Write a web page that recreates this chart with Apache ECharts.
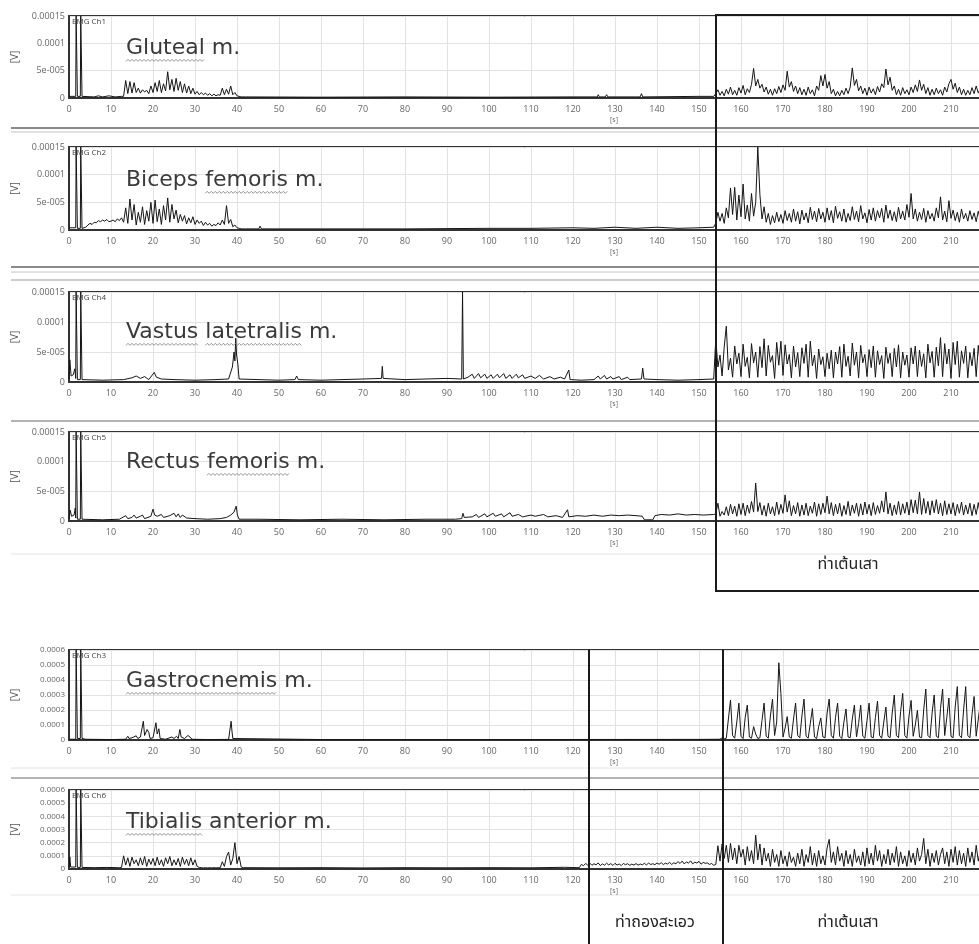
<!DOCTYPE html>
<html><head><meta charset="utf-8">
<script src="https://cdn.jsdelivr.net/npm/echarts@6/dist/echarts.min.js"></script>
<style>html,body{margin:0;padding:0;background:#fff}#c{width:979px;height:944px}</style>
</head><body><div id="c"></div>
<script>
// ---------- DATA (EMG amplitude in units of 1e-5 V, time in s) ----------
const xTicks = [0,10,20,30,40,50,60,70,80,90,100,110,120,130,140,150,160,170,180,190,200,210,220];
const yLabelsSmall = {0:'0',5:'5e-005',10:'0.0001',15:'0.00015'};
const yLabelsLarge = {0:'0',10:'0.0001',20:'0.0002',30:'0.0003',40:'0.0004',50:'0.0005',60:'0.0006'};
const channelNames = ['EMG Ch1','EMG Ch2','EMG Ch4','EMG Ch5','EMG Ch3','EMG Ch6'];
const muscleNames = ['Gluteal m.','Biceps femoris m.','Vastus latetralis m.','Rectus femoris m.','Gastrocnemis m.','Tibialis anterior m.'];
const squiggleWords = [['Gluteal'],['femoris'],['Vastus','latetralis'],['femoris'],['Gastrocnemis'],['Tibialis']];
const poseLabels = ['ท่าเต้นเสา','ท่าถองสะเอว'];
const SAMPLE_STEP = 0.5; // s, spacing of the dense sample lists below

// Gluteal
const glutealLead = [[0,0.3],[1.6,0.3],[1.7,15],[1.9,15],[2.0,0.3],[2.7,0.3],[2.8,15],[3.0,15],[3.1,0.3],[6,0.2],[7,0.4],[8,0.2],[9.5,0.4],[11,0.2],[12.5,0.3]];
const glutealA_t0 = 13;
const glutealA = [0.3,3.2,0.8,3.0,0.9,2.8,1.0,1.8,0.9,1.5, 1.1,1.4,0.8,2.2,1.0,2.8,1.2,3.2,1.0,2.6, 1.3,4.8,1.5,3.4,1.2,3.6,1.4,3.0,1.0,2.6, 0.9,2.2,0.8,1.8,0.7,1.2,0.6,1.0,0.6,0.9, 0.5,0.8,0.4,0.7,0.4,0.6,0.5,1.8,0.6,1.6, 0.7,2.2,0.6,1.0,0.4,0.3,0.2];
const glutealMid = [[42,0.2],[60,0.15],[80,0.2],[100,0.15],[120,0.2],[125.8,0.2],[126,0.6],[126.3,0.2],[127.7,0.2],[128,0.6],[128.3,0.2],[136,0.2],[136.3,0.8],[136.6,0.2],[150,0.3],[153.5,0.3]];
const glutealB_t0 = 154;
const glutealB = [0.8,1.5,0.5,1.2,0.4,1.6,0.7,2.0,0.6,1.4, 0.5,1.9,0.9,2.3,0.6,1.7,1.0,2.5,5.4,2.2, 3.4,1.8,2.5,1.1,2.0,0.7,1.6,0.5,1.7,0.8, 2.1,1.0,2.4,1.4,4.9,2.0,3.0,1.2,2.2,0.8, 1.9,0.6,1.6,0.5,2.0,0.8,1.5,0.4,2.2,1.4, 4.1,2.2,4.3,1.8,3.0,0.8,1.6,0.4,1.2,0.4, 1.4,0.6,1.8,0.8,2.0,5.5,2.3,3.4,1.3,2.2, 0.8,1.8,0.5,2.0,0.9,1.7,0.6,2.1,1.1,2.6, 1.9,5.3,2.4,3.8,1.4,2.2,0.6,1.6,0.5,1.9, 0.8,1.5,0.6,2.0,1.0,2.4,1.2,3.3,1.4,2.5, 0.8,1.9,0.5,1.6,0.6,1.8,0.8,1.5,0.5,2.0, 1.1,2.6,3.4,1.6,2.7,1.0,2.0,0.6,1.6,0.5, 1.4,0.6,1.9,0.8,2.2,0.9,1.8];

// Biceps femoris
const bicepsLead = [[0,0.4],[1.6,0.4],[1.7,15],[1.9,15],[2.0,0.3],[2.7,0.3],[2.8,15],[3.0,15],[3.1,0.3],[3.5,0.4]];
const bicepsA_t0 = 4;
const bicepsA = [0.5,0.9,1.2,1.0,1.4,1.3,1.7,1.5,1.8,1.6, 1.9,1.5,1.6,1.8,1.5,2.0,1.7,2.2,1.4,4.0, 1.2,5.6,1.8,4.6,0.9,3.2,1.4,4.2,1.0,3.5, 1.6,5.0,1.2,5.4,1.5,3.8,1.0,4.4,1.8,5.8, 1.4,4.6,2.0,3.6,1.3,2.8,1.6,2.6,1.1,2.2, 1.3,2.4,1.0,1.8,1.2,1.6,0.8,1.4,0.9,1.2, 0.7,1.0,0.8,1.3,0.9,1.8,1.0,4.4,1.2,1.9, 0.6,0.9,0.4,0.3,0.2];
const bicepsMid = [[42,0.2],[45.2,0.2],[45.5,0.7],[45.8,0.2],[60,0.2],[80,0.2],[100,0.3],[110,0.3],[120,0.4],[125,0.3],[130,0.5],[135,0.3],[140,0.5],[145,0.3],[150,0.4],[153.5,0.5]];
const bicepsB_t0 = 154;
const bicepsB = [1.2,3.2,1.6,3.0,1.2,4.0,2.2,7.6,2.8,7.7, 1.8,6.3,2.4,8.3,2.0,4.5,1.6,6.6,2.5,5.0, 15,6.4,2.0,4.2,1.4,3.0,1.0,2.6,1.3,3.2, 1.5,2.8,1.2,3.5,1.7,3.0,1.4,3.8,1.6,3.3, 1.1,3.6,1.8,3.1,1.3,4.1,1.9,3.4,1.5,3.9, 2.0,3.2,1.4,4.0,1.8,3.5,1.3,4.3,2.1,3.3, 1.6,3.8,1.4,3.0,1.7,4.2,1.9,3.4,1.5,4.4, 2.0,3.1,1.3,3.7,1.8,4.0,1.6,3.5,2.2,3.9, 1.4,4.5,2.1,3.6,1.7,3.3,1.5,4.1,2.0,3.4, 1.8,4.6,2.3,6.6,2.0,3.8,1.6,3.2,1.9,3.9, 1.4,3.5,2.0,3.0,1.6,4.0,2.2,6.0,1.8,3.4, 1.5,5.3,2.1,3.6,1.7,3.2,1.4,3.8,2.0,3.0, 1.6,3.5,1.9,3.1,1.5,3.4,1.8];

// Vastus lateralis
const vastusLead = [[0,0.5],[0.2,3.7],[0.5,1.0],[1.0,1.2],[1.4,2.2],[1.6,0.6],[1.7,15],[1.9,15],[2.0,0.4],[2.7,0.4],[2.8,15],[3.0,15],[3.1,0.4],[8,0.3],[13,0.4],[15,0.7],[16,1.0],[17,0.6],[18,0.9],[19,0.4],[20.3,1.6],[20.8,0.8],[22,0.5],[25,0.4],[30,0.3],[35,0.4],[38,0.5],[38.9,2.5],[39.3,5.0],[39.5,3.5],[39.7,7.3],[39.9,4.5],[40.2,3.0],[40.5,0.5],[45,0.4],[50,0.3],[53.8,0.4],[54.2,1.0],[54.6,0.4],[60,0.3],[65,0.4],[70,0.5],[74.4,0.6],[74.6,2.6],[74.8,0.6],[80,0.4],[85,0.5],[90,0.6],[93.5,0.5],[93.7,15],[93.9,0.5],[95,0.8],[96,1.3],[96.5,0.6],[97.5,1.4],[98,0.7],[99,1.3],[99.5,0.6],[100.5,1.2],[101,0.6],[102,1.3],[102.5,0.7],[103.5,1.4],[104,0.6],[105,1.2],[105.5,0.6],[106.5,1.3],[107,0.7],[108,1.2],[108.5,0.6],[110,1.0],[111,0.6],[112,1.1],[113,0.5],[114.5,0.9],[115.5,0.5],[117,0.8],[118,0.5],[119,2.0],[119.3,0.4],[122,0.3],[125,0.4],[126,1.0],[126.5,0.5],[127.5,1.1],[128,0.5],[129,0.9],[129.5,0.5],[131,0.9],[131.5,0.4],[133,0.8],[133.5,0.4],[136.3,0.5],[136.6,2.3],[136.9,0.5],[140,0.4],[145,0.3],[150,0.4],[153.5,0.5]];
const vastusB_t0 = 154;
const vastusB = [7.2,2.5,4.5,1.0,5.8,9.3,2.0,4.0,0.8,6.0, 3.0,4.8,0.9,6.3,2.6,4.1,0.7,6.4,3.2,5.0, 0.8,5.9,2.4,7.2,1.0,6.1,3.3,4.4,0.6,6.6, 2.8,6.8,1.1,6.2,3.0,4.6,0.7,6.0,2.5,4.9, 0.9,5.7,3.1,6.3,0.8,6.8,2.7,4.5,0.6,5.5, 2.9,4.2,0.9,4.8,2.2,5.3,0.7,5.0,3.0,5.9, 0.8,6.3,2.6,4.3,1.0,6.5,2.8,5.0,0.7,6.1, 3.2,4.6,0.9,5.4,2.4,6.0,0.8,5.2,2.9,4.4, 0.6,5.8,3.1,4.8,0.9,5.6,2.5,6.2,0.7,5.0, 2.8,4.5,0.8,5.7,3.0,6.0,0.9,5.3,2.6,4.7, 0.7,6.3,3.2,5.1,0.8,5.8,2.7,7.4,0.9,6.4, 3.0,5.5,0.6,6.6,2.9,6.8,0.8,5.2,3.1,6.0, 0.7,4.9,2.7,5.6,0.9,6.1,2.5];

// Rectus femoris
const rectusLead = [[0,0.4],[0.3,1.8],[0.6,0.8],[1.2,1.0],[1.5,2.2],[1.6,0.5],[1.7,15],[1.9,15],[2.0,0.3],[2.7,0.3],[2.8,15],[3.0,15],[3.1,0.3],[8,0.2],[12,0.3],[13.5,0.9],[14,0.4],[15,0.6],[15.5,1.0],[16,0.5],[17,0.8],[17.5,1.0],[18,0.4],[19.5,0.8],[20,2.0],[20.4,1.0],[21,0.8],[22,1.1],[22.5,0.6],[24,0.9],[25,1.3],[25.5,0.7],[26,1.2],[26.5,0.6],[27,1.0],[28,0.5],[30,0.4],[33,0.3],[36,0.4],[37.5,0.6],[38.5,1.0],[39.3,1.5],[39.8,2.5],[40.1,1.0],[40.5,0.3],[45,0.3],[55,0.2],[65,0.3],[75,0.2],[85,0.3],[92,0.3],[93.5,0.4],[93.8,1.3],[94.1,0.6],[96,0.7],[97,1.1],[97.5,0.6],[99,1.2],[99.5,0.7],[101,1.3],[101.5,0.8],[103,1.2],[103.5,0.7],[105,1.4],[105.5,0.8],[107,1.1],[108,0.7],[110,1.0],[111,0.8],[113,1.1],[114,0.7],[116,0.9],[117.5,0.6],[118.7,1.9],[119,0.7],[121,0.9],[123,0.8],[125,1.0],[127,0.8],[129,1.0],[131,0.9],[133,1.0],[135,0.9],[136.5,0.8],[137,0.2],[139,0.2],[139.5,0.9],[141,1.1],[143,1.0],[145,1.2],[147,1.0],[149,1.1],[151,1.0],[153.5,1.1]];
const rectusB_t0 = 154;
const rectusB = [1.2,3.0,0.8,1.6,1.0,2.4,0.9,2.8,1.2,2.5, 0.8,2.9,1.1,3.0,0.9,2.7,1.3,3.3,1.5,6.4, 1.6,3.1,1.0,2.6,0.8,3.0,1.2,2.4,0.9,3.2, 1.1,2.8,1.3,4.4,1.5,3.4,0.9,2.6,1.2,3.1, 0.8,2.7,1.0,3.0,0.9,2.5,1.3,3.2,0.8,2.9, 1.1,3.0,1.4,4.2,1.2,3.1,0.9,2.8,1.2,3.0, 0.8,2.6,1.1,3.3,0.9,2.7,1.3,3.0,0.8,2.9, 1.0,3.2,1.2,2.8,0.9,3.1,1.1,2.6,1.3,3.4, 1.5,4.9,1.2,3.0,0.9,2.7,1.1,3.3,1.0,2.9, 1.3,3.2,1.0,3.6,1.4,3.5,1.2,4.9,1.1,3.8, 1.3,3.3,1.0,3.4,1.4,3.6,1.2,3.0,0.9,3.4, 1.1,2.9,1.2,3.1,0.9,2.8,1.3,3.2,1.0,2.7, 1.2,3.0,0.9,2.8,1.1,3.1,1.0];

// Gastrocnemius
const gastroLead = [[0,0.5],[1.6,0.5],[1.7,60],[1.9,60],[2.0,1.0],[2.7,1.0],[2.8,60],[3.0,60],[3.1,1.0],[4,0.5],[10,0.3],[13.5,0.5],[14,2.5],[14.3,1.0],[15,1.5],[16,2.8],[16.4,1.0],[17,2.0],[17.7,12.5],[18,3.0],[18.6,7.0],[19,5.0],[19.3,1.0],[20,1.5],[20.7,11.5],[21,4.0],[21.4,7.5],[21.7,1.0],[23,0.5],[24.5,2.0],[25,1.0],[25.6,2.5],[26,1.0],[26.4,7.0],[26.7,2.0],[27.5,1.0],[28.3,3.0],[28.8,2.0],[29.3,0.5],[33,0.3],[38,0.4],[38.6,12.5],[38.8,6.0],[39,1.0],[39.3,0.3],[60,0.3],[100,0.3],[150,0.4],[155,0.5]];
const gastroB_t0 = 155.5;
const gastroB = [1.5,0.8,1.2,14,26.7,3,1.2,12,24.6,2.5, 1.0,15,23.3,2,1.2,8.9,4,1.0,1.5,13, 24.6,2.5,1.2,16,27.3,3,12,51.5,31,2, 8,15.6,2,1.2,14,24.6,3,1.5,16,27.3, 2.5,1.2,11,21,2,1.0,9,14.7,2,1.5, 18,27.3,3,1.2,15,24.6,2.5,1.0,12,20.7, 2,1.5,14,23.3,2,11,23.3,2.5,1.2,13, 24.6,2,1.5,15,25.9,3,1.2,12,22,2.5, 1.5,18,30,3,1.5,19,31.1,3,1.2,16, 26.4,2.5,10,19.8,2,1.5,20,34,3,1.5, 18,30,2.5,1.5,21,34,3,15,28,2.5, 1.5,22,35.6,3,1.5,20,35.6,3,1.5,17, 29,2.5,14,25];

// Tibialis anterior
const tibialisLead = [[0,1.5],[0.2,9.2],[0.4,1.5],[1.6,1.5],[1.7,60],[1.9,60],[2.0,1.2],[2.7,1.2],[2.8,60],[3.0,60],[3.1,1.2],[6,1.0],[9,1.2],[11.5,1.0]];
const tibialisA_t0 = 12;
const tibialisA = [1.0,1.2,10,3,8.5,2,9,4,7,2.5, 8.5,3,9.5,2,7.5,3.5,8,2.5,9,3, 7,2,8.5,4,9.5,2.5,7,3,8,2, 9,3.5,7.5,2.5,8.5,3,7,2,1.2,1.0, 0.8,1.0,0.8,1.0,0.8,1.0,0.8,1.0,0.9,5.5, 2,9.5,12.8,3,8,20,4,9.5,1.5];
const tibialisMid = [[41.5,1.0],[50,0.9],[60,1.0],[70,0.8],[80,1.0],[90,0.9],[100,1.0],[110,0.9],[118,1.3],[121.5,1.0]];
const tibialisC_t0 = 122;
const tibialisC = [3.5,2.5,4.2,3.0,4.5,2.8,4.0,3.2,4.6,2.6, 3.9,2.9,4.4,3.1,4.1,2.7,4.3,3.0,3.8,2.6, 4.2,3.3,4.0,2.8,3.7,3.0,4.1,2.9,3.8,3.2, 4.3,3.1,4.5,3.4,4.0,3.3,4.6,3.6,4.8,3.4, 4.4,3.8,5.0,3.5,4.7,4.0,5.6,4.2,6.0,3.8, 5.4,4.4,6.2,3.9,5.2,4.5,5.8,3.7,5.0,4.3, 4.6,3.5,4.2,2.8,3.5,17.7];
const tibialisB_t0 = 155;
const tibialisB = [6,19,8,18,5,19.5,7,16,4,18, 9,15,3,17,6,14,4,25.7,7,19, 3,16,6,12,2,15,5,11,2,14, 4,10,2,13,5,9,2,12,4,15, 2,11,5,17,3,12,2,14,4,10, 3,16,22.5,5,13,3,17,6,12,2, 14,4,11,2,15,5,10,3,13,2, 16,4,12,3,18,6,14,2,11,4, 15,3,12,5,17,2,13,4,10,2, 14,5,12,3,16,6,11,23.2,4,15, 2,12,5,14,3,11,16,4,13,2, 15,5,17,3,14,4,12,2,16,5, 13,3,18,6,14];

// ---------- BUILD ----------
function samples(t0, vals){ return vals.map((v,i)=>[t0 + i*SAMPLE_STEP, v]); }
const seriesData = [
  [].concat(glutealLead, samples(glutealA_t0, glutealA), glutealMid, samples(glutealB_t0, glutealB)),
  [].concat(bicepsLead, samples(bicepsA_t0, bicepsA), bicepsMid, samples(bicepsB_t0, bicepsB)),
  [].concat(vastusLead, samples(vastusB_t0, vastusB)),
  [].concat(rectusLead, samples(rectusB_t0, rectusB)),
  [].concat(gastroLead, samples(gastroB_t0, gastroB)),
  [].concat(tibialisLead, samples(tibialisA_t0, tibialisA), tibialisMid, samples(tibialisC_t0, tibialisC), samples(tibialisB_t0, tibialisB))
];

// layout (pixels)
const PLOT_LEFT = 69, PX_PER_S = 4.2;
const panels = [
  {top:16, height:82, big:false, nameY:48},
  {top:147, height:83, big:false, nameY:180},
  {top:292, height:90, big:false, nameY:332},
  {top:432, height:89, big:false, nameY:462},
  {top:650, height:90, big:true, nameY:681},
  {top:790, height:79, big:true, nameY:822}
];
const NAME_FONT_SIZE = 22;
const NAME_FONT = '"DejaVu Sans",sans-serif';
const FONT = '"Open Sans","Noto Sans",sans-serif';

const chart = echarts.init(document.getElementById('c'), null, {renderer:'canvas'});
const grid=[], xAxis=[], yAxis=[], series=[], graphic=[];
const measureCtx = document.createElement('canvas').getContext('2d');
measureCtx.font = NAME_FONT_SIZE + 'px ' + NAME_FONT;

panels.forEach((p,i)=>{
  grid.push({left:PLOT_LEFT, width:PX_PER_S*xTicks[xTicks.length-1], top:p.top, height:p.height,
    show:true, borderColor:'#333', borderWidth:2, containLabel:false, outerBoundsMode:'none'});
  xAxis.push({type:'value', gridIndex:i, min:xTicks[0], max:xTicks[xTicks.length-1], interval:10,
    axisLine:{show:true, lineStyle:{color:'#333', width:2}}, axisTick:{show:false},
    axisLabel:{fontSize:9, color:'#666', margin:7, fontFamily:FONT},
    splitLine:{show:true, lineStyle:{color:'#e2e2e2', width:1}}});
  const labs = p.big ? yLabelsLarge : yLabelsSmall;
  yAxis.push({type:'value', gridIndex:i, min:0, max:p.big?60:15, interval:p.big?10:5,
    axisLine:{show:true, lineStyle:{color:'#333', width:2}}, axisTick:{show:false},
    axisLabel:{fontSize:p.big?8:9, color:'#666', margin:4, fontFamily:FONT, formatter:v=>labs[v]!==undefined?labs[v]:''},
    splitLine:{show:true, lineStyle:{color:'#e2e2e2', width:1}},
    name:'[V]', nameLocation:'middle', nameGap:49, nameRotate:90, nameTextStyle:{fontSize:10, color:'#555', fontFamily:FONT}});
  series.push({type:'line', xAxisIndex:i, yAxisIndex:i, data:seriesData[i], showSymbol:false, symbol:'none',
    lineStyle:{color:'#151515', width:1}, clip:true, animation:false, z:3});
  graphic.push({type:'text', left:PLOT_LEFT+3, top:p.top+2, z:10, style:{text:channelNames[i], fontSize:8, fill:'#444', fontFamily:FONT}});
  const nameX = 126;
  graphic.push({type:'text', x:nameX, y:p.nameY, z:10, style:{text:muscleNames[i], fontSize:NAME_FONT_SIZE, fill:'#3a3a3a', fontFamily:NAME_FONT, verticalAlign:'middle'}});
  // spell-check style wavy underline beneath some words
  const baseY = p.nameY + NAME_FONT_SIZE*0.38 + 4;
  squiggleWords[i].forEach(w=>{
    const idx = muscleNames[i].indexOf(w);
    const x0 = nameX + measureCtx.measureText(muscleNames[i].slice(0,idx)).width;
    const x1 = x0 + measureCtx.measureText(w).width;
    const pts = [];
    for(let x=x0, k=0; x<=x1; x+=2, k++) pts.push([x, baseY + (k%2? -1:1)]);
    graphic.push({type:'polyline', z:10, shape:{points:pts}, style:{stroke:'#777', lineWidth:0.8, fill:'none'}});
  });
  graphic.push({type:'text', left:PLOT_LEFT+PX_PER_S*130-5, top:p.top+p.height+18, z:10, style:{text:'[s]', fontSize:7, fill:'#666', fontFamily:FONT}});
});

// separators between panel windows
const seps = [[128,'#8a8a8a',2],[132,'#c4c4c4',1],[267,'#8a8a8a',2],[272,'#c4c4c4',1],[280,'#9a9a9a',1],[421,'#9a9a9a',1.5],[554,'#e2e2e2',1],[768,'#e2e2e2',1],[778,'#9a9a9a',1.5],[895,'#e6e6e6',1]];
seps.forEach(s=>graphic.push({type:'line', z:5, shape:{x1:11,y1:s[0],x2:979,y2:s[0]}, style:{stroke:s[1], lineWidth:s[2]}}));

// pose boxes
const thaiFont = '"Noto Sans Thai","Loma","Garuda","Tlwg Typo","Tahoma",sans-serif';
graphic.push({type:'rect', z:20, shape:{x:716, y:15, width:300, height:576}, style:{fill:'none', stroke:'#1a1a1a', lineWidth:2}});
graphic.push({type:'text', z:20, x:848, y:566, style:{text:poseLabels[0], fontSize:16, fill:'#222', align:'center', verticalAlign:'middle', fontFamily:thaiFont}});
graphic.push({type:'line', z:20, shape:{x1:589,y1:650,x2:589,y2:944}, style:{stroke:'#1a1a1a', lineWidth:2}});
graphic.push({type:'line', z:20, shape:{x1:723,y1:650,x2:723,y2:944}, style:{stroke:'#1a1a1a', lineWidth:2}});
graphic.push({type:'text', z:20, x:655, y:924, style:{text:poseLabels[1], fontSize:16, fill:'#222', align:'center', verticalAlign:'middle', fontFamily:thaiFont}});
graphic.push({type:'text', z:20, x:848, y:924, style:{text:poseLabels[0], fontSize:16, fill:'#222', align:'center', verticalAlign:'middle', fontFamily:thaiFont}});

chart.setOption({animation:false, backgroundColor:'#fff', grid, xAxis, yAxis, series, graphic});
</script></body></html>
